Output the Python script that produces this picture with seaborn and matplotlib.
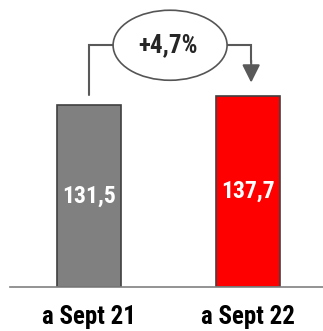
import pandas as pd
import matplotlib
matplotlib.use("Agg")
import matplotlib.pyplot as plt
import seaborn as sns
from matplotlib.patches import Ellipse

categories = ["a Sept 21", "a Sept 22"]
values = [131.5, 137.7]
bar_colors = ["#808080", "#FF0000"]
change_label = "+4,7%"

sns.set_style("white")
plt.rcParams["font.family"] = ["Roboto Condensed", "DejaVu Sans"]

df = pd.DataFrame({"period": categories, "value": values})

fig = plt.figure(figsize=(3.23, 3.31), dpi=100)
ax = fig.add_axes([10 / 323, 44 / 331, 313 / 323, 287 / 331])

sns.barplot(data=df, x="period", y="value", hue="period", palette=bar_colors,
            width=0.4, legend=False, ax=ax, edgecolor="#404040", linewidth=1.2,
            saturation=1)

ax.set_xlim(-0.497, 1.472)
ax.set_ylim(0, 207.4)
ax.set_xlabel("")
ax.set_ylabel("")
ax.set_yticks([])
for s in ["top", "left", "right"]:
    ax.spines[s].set_visible(False)
ax.spines["bottom"].set_color("#808080")
ax.spines["bottom"].set_linewidth(1.2)
ax.tick_params(axis="x", length=0, pad=13)
for t in ax.get_xticklabels():
    t.set_fontsize(18)
    t.set_fontweight("bold")
    t.set_color("black")

# value labels inside bars
for i, v in enumerate(values):
    ax.text(i, v / 2, f"{v:.1f}".replace(".", ","), ha="center", va="center",
            color="white", fontsize=17, fontweight="bold")

# change bubble with elbow connector
ell_y = max(values) + 37
ax.add_patch(Ellipse((0.51, ell_y), 0.717, 50.6, facecolor="white",
                     edgecolor="#555555", linewidth=1.2, zorder=3))
ax.text(0.5, ell_y, change_label, ha="center", va="center", fontsize=18,
        fontweight="bold", zorder=4)
ax.plot([0, 0, 0.51 - 0.3585], [values[0] + 7, ell_y, ell_y],
        color="#595959", linewidth=1.5, solid_joinstyle="miter", zorder=2)
ax.plot([0.51 + 0.3585, 1.02, 1.02], [ell_y, ell_y, values[1] + 25],
        color="#595959", linewidth=1.5, solid_joinstyle="miter", zorder=2)
ax.annotate("", xy=(1.02, values[1] + 10), xytext=(1.02, values[1] + 26),
            arrowprops=dict(arrowstyle="-|>,head_length=0.6,head_width=0.3",
                            mutation_scale=18, color="#595959", linewidth=1.5,
                            shrinkA=0, shrinkB=0))

fig.savefig("out.png", dpi=100)
